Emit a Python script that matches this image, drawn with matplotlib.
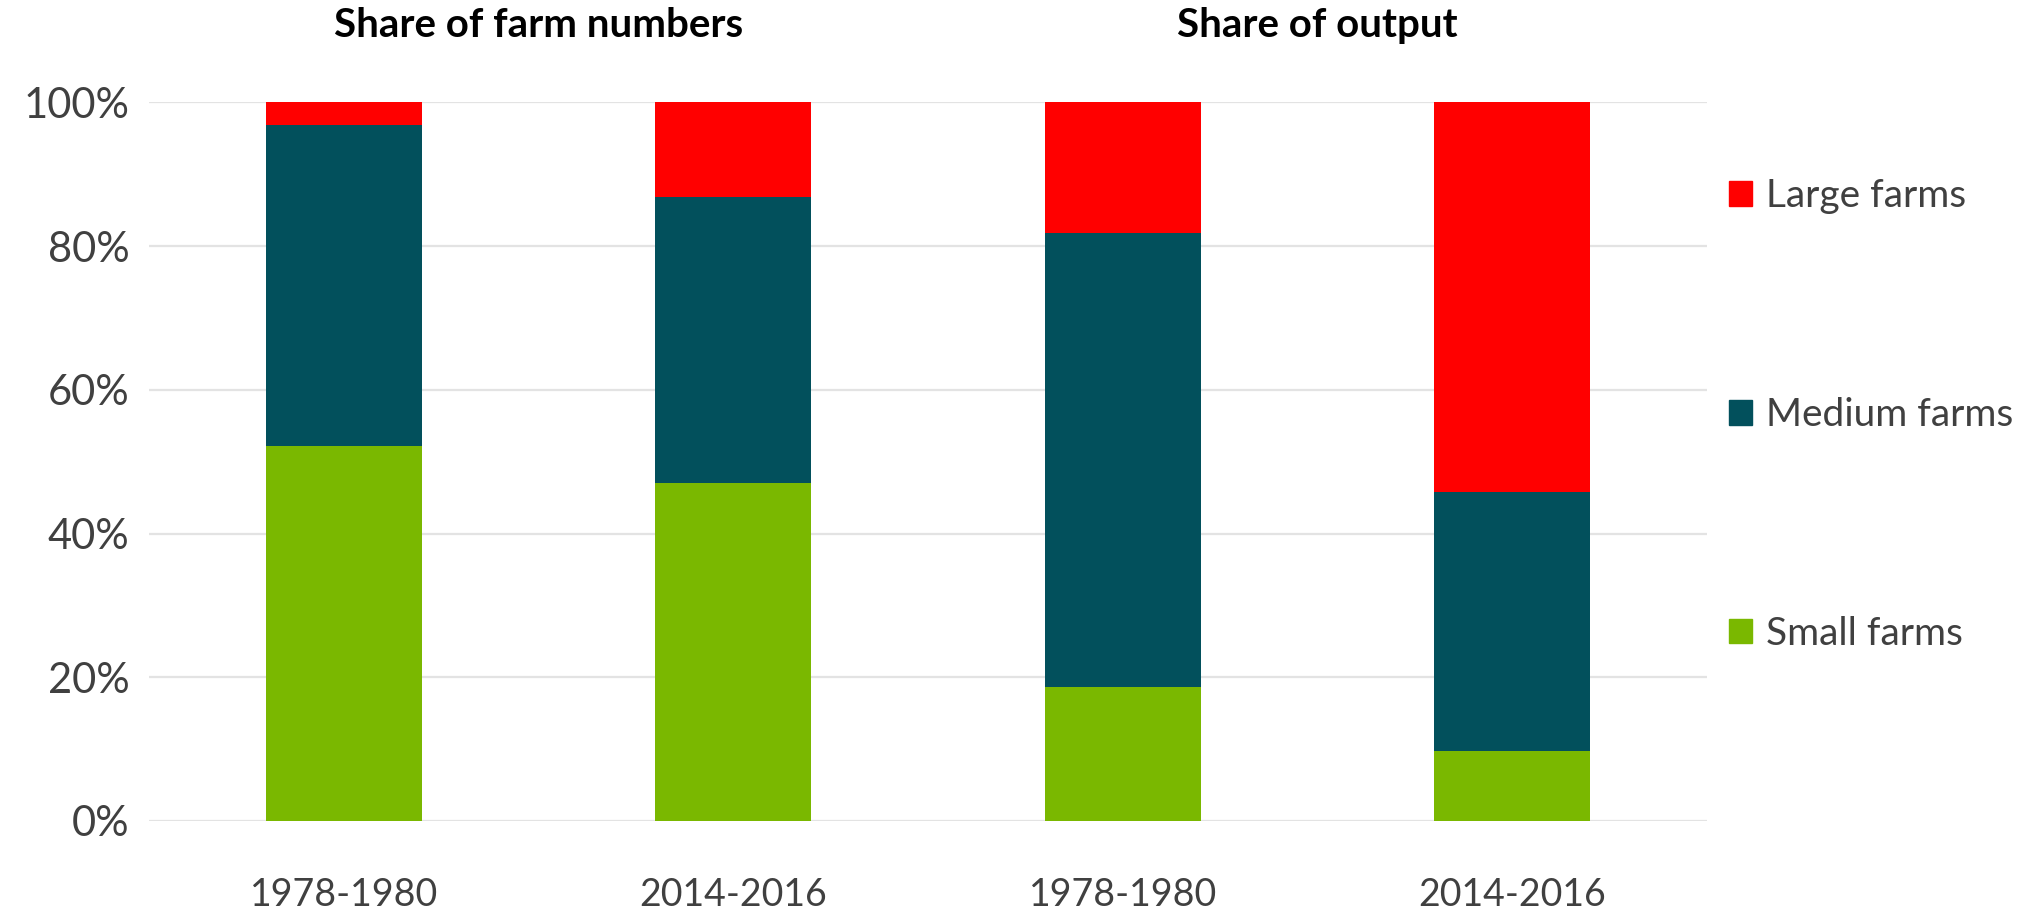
import matplotlib.pyplot as plt
import numpy as np
from matplotlib.patches import Patch

plt.rcParams["font.family"] = ["Lato", "DejaVu Sans"]

# values in percent
periods = ["1978-1980", "2014-2016", "1978-1980", "2014-2016"]
groups = ["Share of farm numbers", "Share of output"]
small = [52.2, 47.1, 18.6, 9.8]
medium = [44.6, 39.8, 63.3, 36.0]
large = [3.2, 13.1, 18.1, 54.2]
series = ["Small farms", "Medium farms", "Large farms"]
colors = ["#7ab800", "#02505c", "#ff0000"]

fig = plt.figure(figsize=(20.35, 9.14), dpi=100)
ax = fig.add_axes([0.0732, 0.1018, 0.7656, 0.7861])

x = np.arange(len(periods))
bottom = np.zeros(len(periods))
for vals, col, name in zip([small, medium, large], colors, series):
    v = np.array(vals) / 100
    ax.bar(x, v, 0.4, bottom=bottom, color=col, label=name, zorder=3)
    bottom += v

ax.set_xlim(-0.5, len(periods) - 0.5)
ax.set_ylim(0, 1)
ax.set_yticks(np.linspace(0, 1, 6))
ax.set_yticklabels([f"{int(t)}%" for t in np.linspace(0, 100, 6)])
ax.set_xticks(x, periods)
ax.yaxis.grid(True, color="#e3e3e3", lw=1.6, zorder=0)
ax.set_axisbelow(True)
for s in ax.spines.values():
    s.set_visible(False)
ax.tick_params(length=0, colors="#404040")
ax.tick_params(axis="y", pad=14, labelsize=30)
ax.tick_params(axis="x", pad=40, labelsize=27)

for i, g in enumerate(groups):
    xc = ax.transData.transform((2 * i + 0.5, 0))[0] / fig.bbox.width
    fig.text(xc, 0.9595, g, ha="center", va="baseline", fontsize=29, fontweight="bold", color="black")

handles = [Patch(color=c) for c in colors][::-1]
ax.legend(handles, series[::-1], loc="center left", bbox_to_anchor=(0.840, 0.546),
          bbox_transform=fig.transFigure, frameon=False, fontsize=28, labelcolor="#404040",
          handlelength=0.6, handleheight=0.6, handletextpad=0.35, labelspacing=4.7, borderpad=0)

fig.savefig("out.png", dpi=100)
